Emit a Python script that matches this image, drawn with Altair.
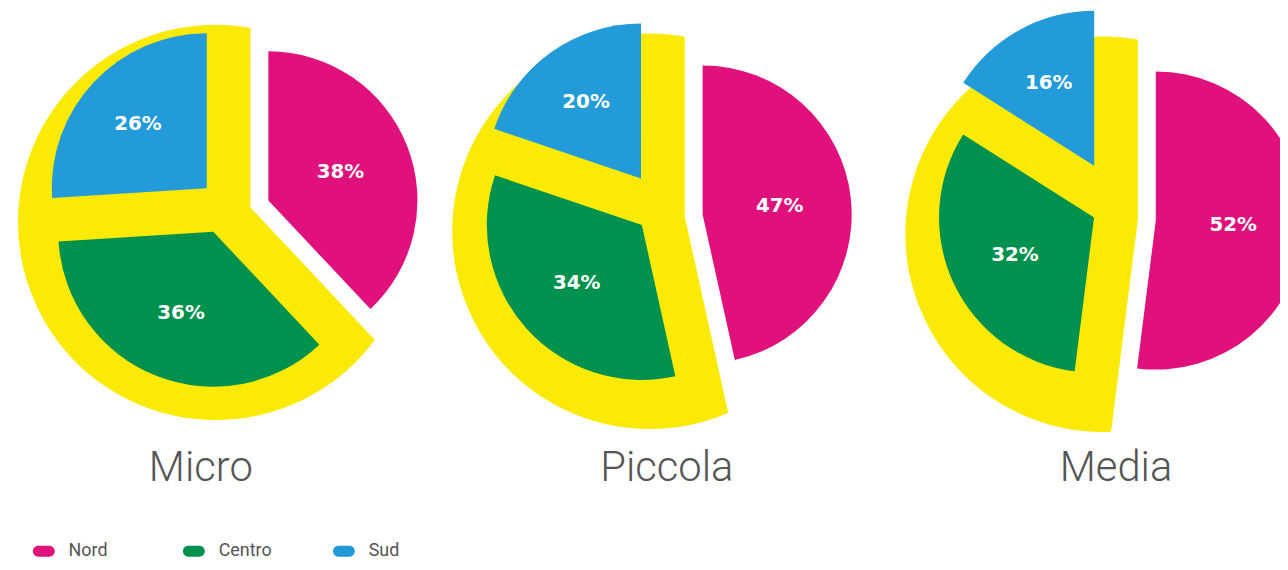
import altair as alt
import pandas as pd

# ---- data ----
sizes = ["Micro", "Piccola", "Media"]
regions = ["Nord", "Centro", "Sud"]
nord = [38, 47, 52]
centro = [36, 34, 32]
sud = [26, 20, 16]

colors = ["#E0107C", "#00914E", "#229BD8"]
yellow = "#FAEA05"

# ---- layout (pixels) ----
W, H = 1280, 554
PIE_CX = [244, 681, 1137]
PIE_CY = [199, 208, 211]
TITLE_X = [194, 663, 1115]
TITLE_Y = 474
G_NORD, G_OUT, G_IN = 18, 44, 22        # explode gaps
R_NORD, R_SUB = 150, 156                # slice radii
R_Y, YDX, YDY = 199, -35, 15            # yellow rim circle

rows = []
for i, s in enumerate(sizes):
    for j, (r, v) in enumerate(zip(regions, [nord[i], centro[i], sud[i]])):
        rows.append({"size": s, "sidx": i, "region": r, "ord": j, "value": v})
df = pd.DataFrame(rows)

base = (
    alt.Chart(df)
    .transform_joinaggregate(total="sum(value)", groupby=["size"])
    .transform_window(cum="sum(value)", groupby=["size"], sort=[alt.SortField("ord")], frame=[None, 0])
    .transform_calculate(a0="2*PI*(datum.cum-datum.value)/datum.total")
    .transform_calculate(a1="2*PI*datum.cum/datum.total")
    .transform_calculate(cx=f"{PIE_CX}[datum.sidx]")
    .transform_calculate(cy=f"{PIE_CY}[datum.sidx]")
    .transform_calculate(g0=f"datum.region=='Nord' ? {G_NORD} : datum.region=='Centro' ? {G_OUT} : {G_IN}")
    .transform_calculate(g1=f"datum.region=='Nord' ? {G_NORD} : datum.region=='Centro' ? {G_IN} : {G_OUT}")
    .transform_calculate(sd="sin(datum.a1-datum.a0)")
    .transform_calculate(px="datum.cx + (datum.g0*sin(datum.a1)+datum.g1*sin(datum.a0))/datum.sd")
    .transform_calculate(py="datum.cy - (datum.g1*cos(datum.a0)+datum.g0*cos(datum.a1))/datum.sd")
    .transform_calculate(mid="(datum.a0+datum.a1)/2")
    .transform_calculate(rr=f"datum.region=='Nord' ? {R_NORD} : {R_SUB}")
    .transform_calculate(rl="datum.region=='Nord' ? 78 : datum.region=='Centro' ? 88 : 95")
    .transform_calculate(lx="datum.px + datum.rl*sin(datum.mid)")
    .transform_calculate(ly="datum.py - datum.rl*cos(datum.mid)")
    .transform_calculate(label="datum.value + '%'")
)

# yellow group background: wedge at centre, trimmed by a white ring to the rim circle
R_BIG = R_Y + 38
yellow_layer = (
    base.transform_filter("datum.region=='Nord'")
    .transform_calculate(k1="1", k2="2")
    .transform_fold(["k1", "k2"], as_=["kind", "kv"])
    .transform_calculate(t0="datum.kind=='k1' ? datum.a1 : 0")
    .transform_calculate(t1="2*PI")
    .transform_calculate(yx=f"datum.kind=='k1' ? datum.cx : datum.cx + ({YDX})")
    .transform_calculate(yy=f"datum.kind=='k1' ? datum.cy : datum.cy + ({YDY})")
    .transform_calculate(ro=f"datum.kind=='k1' ? {R_BIG} : {R_BIG + 40}")
    .transform_calculate(ri=f"datum.kind=='k1' ? 0 : {R_Y}")
    .transform_calculate(fc=f"datum.kind=='k1' ? '{yellow}' : '#ffffff'")
    .mark_arc(strokeWidth=0)
    .encode(
        theta=alt.Theta("t0:Q", scale=None, stack=False),
        theta2="t1:Q",
        x=alt.X("yx:Q", scale=None, axis=None),
        y=alt.Y("yy:Q", scale=None, axis=None),
        radius=alt.Radius("ro:Q", scale=None),
        radius2="ri:Q",
        fill=alt.Fill("fc:N", scale=None),
    )
)

pill = "M-0.5,-0.5H0.5A0.5,0.5,0,0,1,0.5,0.5H-0.5A0.5,0.5,0,0,1,-0.5,-0.5Z"

slices = base.mark_arc(strokeWidth=0).encode(
    theta=alt.Theta("a0:Q", scale=None, stack=False),
    theta2="a1:Q",
    x=alt.X("px:Q", scale=None, axis=None),
    y=alt.Y("py:Q", scale=None, axis=None),
    radius=alt.Radius("rr:Q", scale=None),
    color=alt.Color(
        "region:N",
        scale=alt.Scale(domain=regions, range=colors),
        sort=regions,
        legend=alt.Legend(
            title=None,
            orient="none",
            legendX=25,
            legendY=534,
            direction="horizontal",
            symbolType=pill,
            symbolSize=484,
            symbolStrokeWidth=0,
            symbolOpacity=1,
            labelFont="Roboto",
            labelFontSize=18,
            labelColor="#555555",
            labelOffset=14,
            columnPadding=61,
            gridAlign="all",
            padding=0,
        ),
    ),
)

labels = base.mark_text(
    font="DejaVu Sans", fontWeight="bold", fontSize=20, color="white",
    align="center", baseline="middle",
).encode(
    x=alt.X("lx:Q", scale=None, axis=None),
    y=alt.Y("ly:Q", scale=None, axis=None),
    text="label:N",
)

tdf = pd.DataFrame({"size": sizes, "sidx": list(range(len(sizes)))})
titles = (
    alt.Chart(tdf)
    .transform_calculate(tx=f"{TITLE_X}[datum.sidx]")
    .transform_calculate(ty=f"{TITLE_Y}")
    .mark_text(font="Roboto", fontWeight=300, fontSize=42, color="#555555",
               align="center", baseline="alphabetic")
    .encode(
        x=alt.X("tx:Q", scale=None, axis=None),
        y=alt.Y("ty:Q", scale=None, axis=None),
        text="size:N",
    )
)

chart = (
    alt.layer(yellow_layer, slices, labels, titles)
    .properties(width=W, height=H, autosize="none", padding=0, background="white")
    .configure_view(stroke="transparent")
)

chart.save("out.html", embed_options={"renderer": "svg", "actions": False})
